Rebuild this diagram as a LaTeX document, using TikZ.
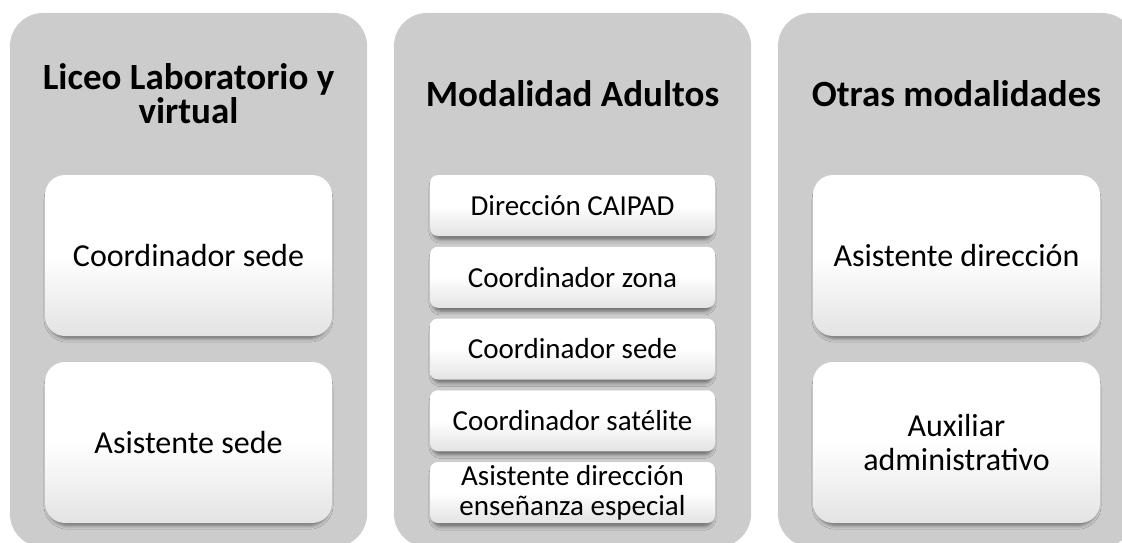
\documentclass[tikz,border=0pt]{standalone}
\usepackage{fontspec}
\setmainfont{Carlito}
\usetikzlibrary{shadows, shadows.blur, positioning}

\tikzset{
  panel/.style={rectangle, rounded corners=33pt, fill=black!20, minimum width=357pt, minimum height=534pt, inner sep=0pt},
  paneltitle/.style={align=center, font=\bfseries\fontsize{37}{34}\selectfont},
  bigbox/.style={rectangle, rounded corners=20pt, minimum width=287pt, minimum height=161pt, align=center,
    font=\fontsize{32}{34}\selectfont, top color=white, bottom color=black!11, middle color=white,
    blur shadow={shadow xshift=0pt, shadow yshift=-4pt, shadow scale=0.98, shadow blur radius=4pt, shadow opacity=50}},
  smallbox/.style={bigbox, rounded corners=8pt, minimum width=285pt, minimum height=61pt, inner sep=1pt,
    font=\fontsize{29}{30}\selectfont}
}

\begin{document}
\begin{tikzpicture}[x=1pt, y=1pt]
  \path[use as bounding box] (0,0) rectangle (1122,-543);

  % Panels
  \node[panel] (liceo) at (188.5,-280) {};
  \node[panel] (adultos) at (572.5,-280) {};
  \node[panel] (otras) at (956.5,-280) {};

  % Titles
  \node[paneltitle] (liceoT) at (188.5,-94) {Liceo Laboratorio y\\virtual};
  \node[paneltitle] (adultosT) at (572.5,-94) {Modalidad Adultos};
  \node[paneltitle] (otrasT) at (956.5,-94) {Otras modalidades};

  % Boxes
  \node[bigbox] (liceo1) at (188.5,-255.5) {Coordinador sede};
  \node[bigbox] (liceo2) at (188.5,-442.5) {Asistente sede};

  \foreach \txt [count=\k] in {Dirección CAIPAD, Coordinador zona, Coordinador sede,
      Coordinador satélite, {Asistente dirección\\enseñanza especial}} {
    \node[smallbox] (adultos\k) at (572.5,{-205.5-71.75*(\k-1)}) {\txt};
  }

  \node[bigbox] (otras1) at (956.5,-255.5) {Asistente dirección};
  \node[bigbox] (otras2) at (956.5,-442.5) {Auxiliar\\administrativo};
\end{tikzpicture}
\end{document}
